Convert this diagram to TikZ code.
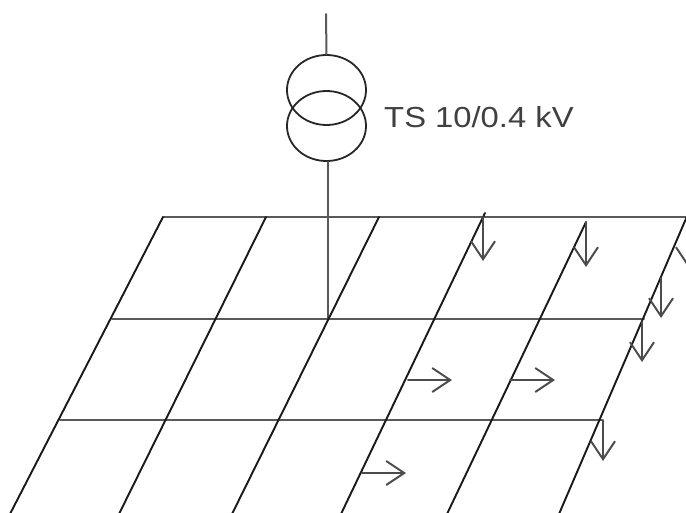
\documentclass[tikz,border=0pt]{standalone}
\usepackage{fontspec}
\setmainfont{Liberation Sans}
\usetikzlibrary{arrows.meta,shapes.geometric}

\begin{document}
\begin{tikzpicture}[x=1pt,y=-1pt,line cap=round,
                    busbar/.style={line width=2pt,black!65},
                    feeder/.style={line width=1.9pt,black!90},
                    load/.style={-{Straight Barb[length=18pt,width=24pt,line width=2pt]},line width=2pt,black!70},
                    winding/.style={ellipse,draw,black!85,line width=1.8pt,inner sep=0pt,minimum width=79pt,minimum height=70pt}]

  \clip (0,0) rectangle (686,512);

  % transformer
  \node[winding] (up) at (326.5,90) {};
  \node[winding] (low) at (326.5,126) {};
  \node[font=\fontsize{29}{29}\selectfont,text=black!75,anchor=west,inner sep=0pt,xscale=1.13] (ts) at (384,117) {TS 10/0.4 kV};
  \coordinate (in) at (326,14);
  \coordinate (j) at (328,319);
  \draw[busbar] (in) -- (up.north);
  \draw[busbar] (low.south -| j) -- (j);

  % bars
  \coordinate (b1) at (163,217);
  \coordinate (b2) at (690,217);
  \coordinate (b3) at (112,319);
  \coordinate (b4) at (644,319);
  \coordinate (b5) at (60,420);
  \coordinate (b6) at (602,420);
  \draw[busbar] (b1) -- (b2);
  \draw[busbar] (b3) -- (b4);
  \draw[busbar] (b5) -- (b6);

  % feeders
  \coordinate (f1) at (163,217);
  \coordinate (g1) at (10,514);
  \coordinate (f2) at (266,217);
  \coordinate (g2) at (119,514);
  \coordinate (f3) at (379,217);
  \coordinate (g3) at (232,514);
  \coordinate (f4) at (485,213);
  \coordinate (g4) at (341,514);
  \coordinate (f5) at (586,222);
  \coordinate (g5) at (447,514);
  \coordinate (f6) at (688,214);
  \coordinate (g6) at (559,514);
  \draw[feeder] (f1) -- (g1);
  \draw[feeder] (f2) -- (g2);
  \draw[feeder] (f3) -- (g3);
  \draw[feeder] (f4) -- (g4);
  \draw[feeder] (f5) -- (g5);
  \draw[feeder] (f6) -- (g6);

  % loads
  \coordinate (l1) at (483,217);
  \coordinate (t1) at (483,261);
  \coordinate (l2) at (586,222);
  \coordinate (t2) at (586,267);
  \coordinate (l3) at (688,222);
  \coordinate (t3) at (688,267);
  \coordinate (l4) at (661,278);
  \coordinate (t4) at (661,318);
  \coordinate (l5) at (642,322);
  \coordinate (t5) at (642,362);
  \coordinate (l6) at (603,420);
  \coordinate (t6) at (603,461);
  \coordinate (l7) at (408,380);
  \coordinate (t7) at (452,380);
  \coordinate (l8) at (510,380);
  \coordinate (t8) at (555,380);
  \coordinate (l9) at (362,473);
  \coordinate (t9) at (406,473);
  \draw[load] (l1) -- (t1);
  \draw[load] (l2) -- (t2);
  \draw[load] (l3) -- (t3);
  \draw[load] (l4) -- (t4);
  \draw[load] (l5) -- (t5);
  \draw[load] (l6) -- (t6);
  \draw[load] (l7) -- (t7);
  \draw[load] (l8) -- (t8);
  \draw[load] (l9) -- (t9);
\end{tikzpicture}
\end{document}
